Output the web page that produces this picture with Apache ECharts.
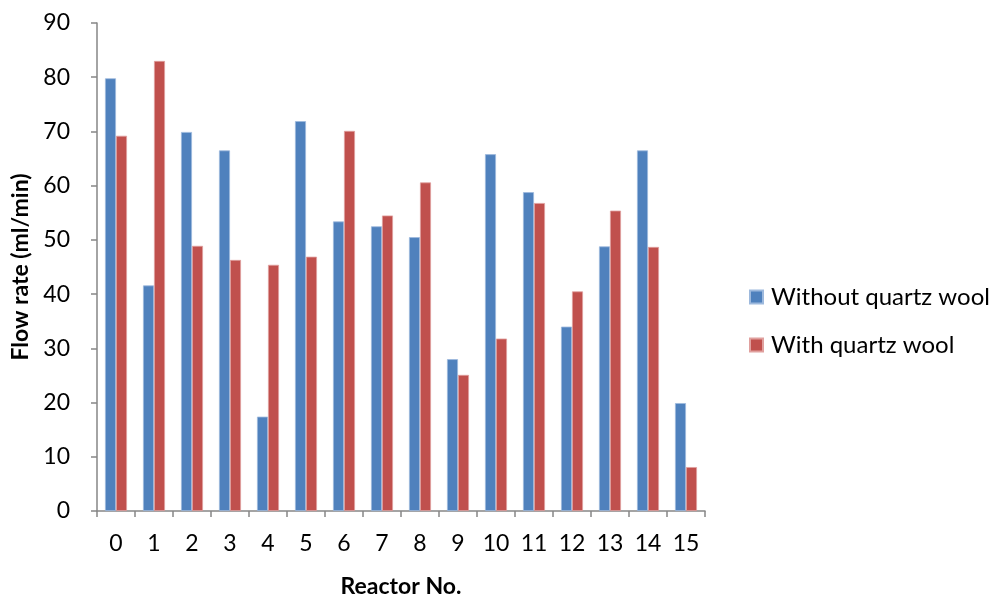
<!DOCTYPE html>
<html>
<head>
<meta charset="utf-8">
<script src="https://cdn.jsdelivr.net/npm/echarts@6/dist/echarts.min.js"></script>
<style>html,body{margin:0;padding:0;background:#fff}#c{width:995px;height:603px}</style>
</head>
<body>
<div id="c"></div>
<script>
const categories = ['0','1','2','3','4','5','6','7','8','9','10','11','12','13','14','15'];
const withoutWool = [79.8, 41.6, 69.9, 66.5, 17.4, 71.9, 53.4, 52.5, 50.5, 28.0, 65.8, 58.8, 34.0, 48.8, 66.5, 19.9];
const withWool = [69.2, 83.0, 48.9, 46.3, 45.4, 46.9, 70.1, 54.5, 60.6, 25.1, 31.8, 56.8, 40.5, 55.4, 48.7, 8.1];
const seriesNames = ['Without quartz wool', 'With quartz wool'];
const yTicks = {min: 0, max: 90, interval: 10};

const FONT = 'Lato, "Open Sans", sans-serif';
const chart = echarts.init(document.getElementById('c'), null, {renderer: 'canvas'});
const axisGrey = '#868686';
chart.setOption({
  animation: false,
  backgroundColor: '#fff',
  grid: {left: 97, right: 290, top: 23, bottom: 84, containLabel: false},
  legend: {
    orient: 'vertical',
    left: 744, top: 280,
    itemWidth: 13, itemHeight: 13, itemGap: 24,
    icon: 'rect',
    textStyle: {fontFamily: FONT, fontSize: 24, color: '#000', padding: [0,0,0,3]},
    data: seriesNames
  },
  xAxis: {
    type: 'category',
    data: categories,
    name: 'Reactor No.',
    nameLocation: 'middle',
    nameGap: 64,
    nameTextStyle: {fontFamily: FONT, fontSize: 23, fontWeight: 'bold', color: '#000'},
    axisLine: {lineStyle: {color: axisGrey, width: 1.5}},
    axisTick: {show: true, length: 6, lineStyle: {color: axisGrey, width: 1.5}, alignWithLabel: false},
    axisLabel: {fontFamily: FONT, fontSize: 23, color: '#000', margin: 21}
  },
  yAxis: {
    type: 'value',
    min: yTicks.min, max: yTicks.max, interval: yTicks.interval,
    name: 'Flow rate (ml/min)',
    nameLocation: 'middle',
    nameGap: 63,
    nameTextStyle: {fontFamily: FONT, fontSize: 23, fontWeight: 'bold', color: '#000'},
    axisLine: {show: true, lineStyle: {color: axisGrey, width: 1.5}},
    axisTick: {show: true, length: 6, lineStyle: {color: axisGrey, width: 1.5}},
    splitLine: {show: false},
    axisLabel: {fontFamily: FONT, fontSize: 23, color: '#000', margin: 27}
  },
  series: [
    {
      name: seriesNames[0], type: 'bar', data: withoutWool,
      barWidth: 11, barGap: '0%',
      itemStyle: {color: '#4F81BD', borderColor: '#9DB9DD', borderWidth: 0.8}
    },
    {
      name: seriesNames[1], type: 'bar', data: withWool,
      barWidth: 11, barGap: '0%',
      itemStyle: {color: '#C0504D', borderColor: '#E0A09E', borderWidth: 0.8}
    }
  ]
});
</script>
</body>
</html>
